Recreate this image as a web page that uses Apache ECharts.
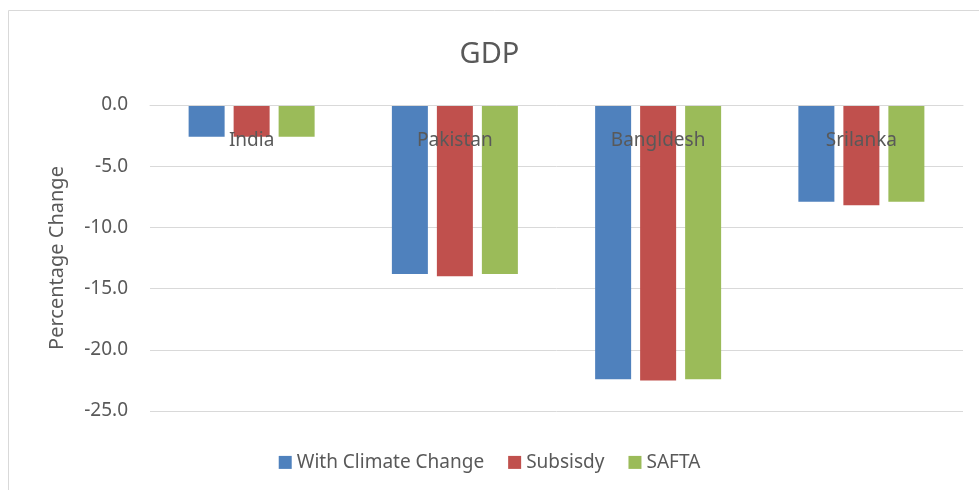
<html>

<head>
    <script src="https://cdn.jsdelivr.net/npm/echarts@6/dist/echarts.min.js"></script>
    <style>
        html, body {
            margin: 0;
            padding: 0;
            background: #fff;
        }
        #gdp {
            width: 979px;
            height: 490px;
        }
    </style>
</head>

<body>
    <div id="gdp"></div>
    <script>
        var countries = ['India', 'Pakistan', 'Bangldesh', 'Srilanka'];
        var withClimate = [-2.6, -13.8, -22.4, -7.9];
        var subsidy = [-2.6, -14.0, -22.5, -8.2];
        var safta = [-2.6, -13.8, -22.4, -7.9];
        var yTicks = [0, -5, -10, -15, -20, -25];

        var font = 'Noto Sans';
        var txt = '#595959';

        var chart = echarts.init(document.getElementById('gdp'));
        var option = {
            animation: false,
            textStyle: { fontFamily: font },
            color: ['#4F81BD', '#C0504D', '#9BBB59'],
            graphic: [{
                type: 'rect',
                shape: { x: 8.5, y: 10.5, width: 1000, height: 500 },
                style: { fill: 'none', stroke: '#d9d9d9', lineWidth: 1 }
            }],
            title: {
                text: 'GDP',
                left: 'center',
                top: 26,
                textStyle: { color: txt, fontSize: 29, fontWeight: 'normal', fontFamily: font }
            },
            legend: {
                bottom: 7,
                left: 'center',
                itemWidth: 13,
                itemHeight: 13,
                itemGap: 24,
                icon: 'rect',
                textStyle: { color: txt, fontSize: 19, fontFamily: font }
            },
            grid: {
                left: 150,
                right: 16,
                top: 105,
                bottom: 79
            },
            xAxis: {
                type: 'category',
                position: 'top',
                z: 10,
                data: countries,
                axisLine: { show: true, lineStyle: { color: '#d9d9d9', width: 1 } },
                axisTick: { show: false },
                axisLabel: {
                    inside: true,
                    margin: 20,
                    color: txt,
                    fontSize: 19,
                    fontFamily: font
                }
            },
            yAxis: {
                type: 'value',
                min: yTicks[yTicks.length - 1],
                max: yTicks[0],
                interval: 5,
                name: 'Percentage Change',
                nameLocation: 'middle',
                nameRotate: 90,
                nameGap: 74,
                nameTextStyle: { color: txt, fontSize: 20, fontFamily: font },
                axisLine: { show: false },
                axisTick: { show: false },
                splitLine: { lineStyle: { color: '#d9d9d9', width: 1 } },
                axisLabel: {
                    margin: 22,
                    color: txt,
                    fontSize: 19,
                    fontFamily: font,
                    formatter: function (v) { return v.toFixed(1); }
                }
            },
            series: [
                { name: 'With Climate Change', type: 'bar', data: withClimate, barWidth: 36, barGap: '25%' },
                { name: 'Subsisdy', type: 'bar', data: subsidy, barWidth: 36, barGap: '25%' },
                { name: 'SAFTA', type: 'bar', data: safta, barWidth: 36, barGap: '25%' }
            ]
        };

        chart.setOption(option);
    </script>
</body>

</html>
